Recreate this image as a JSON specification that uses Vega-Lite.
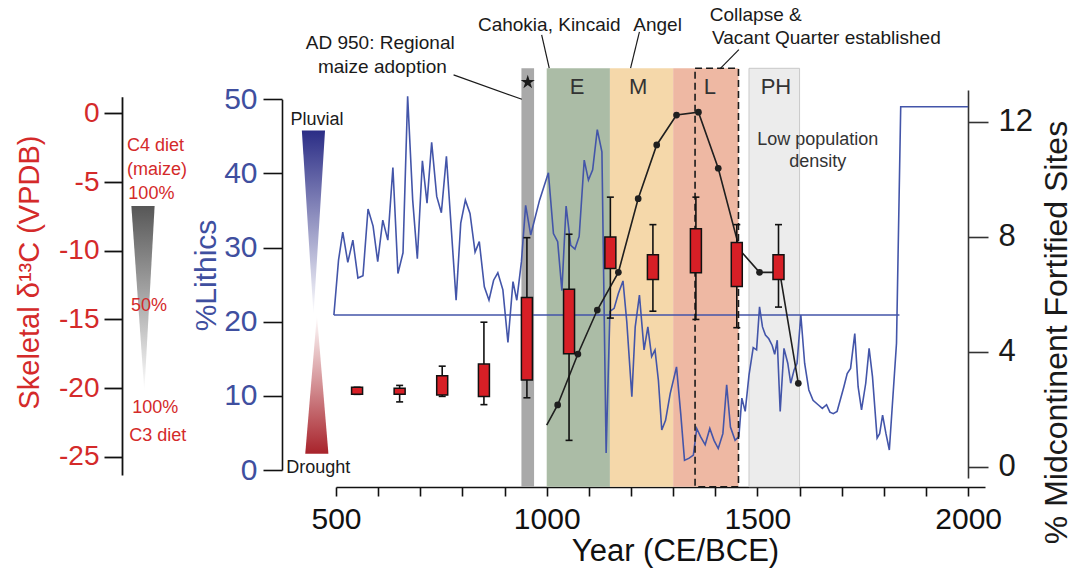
{
  "$schema": "https://vega.github.io/schema/vega-lite/v6.json",
  "width": 649,
  "height": 427,
  "autosize": "none",
  "padding": {"left": 336, "top": 60, "right": 98, "bottom": 86},
  "background": "white",
  "config": {"view": {"stroke": null}, "font": "Liberation Sans", "axis": {"grid": false}},
  "datasets": {
    "bands": [
      {"band": "maize", "start": 940, "end": 970},
      {"band": "E", "start": 1000, "end": 1150},
      {"band": "M", "start": 1150, "end": 1300},
      {"band": "L", "start": 1300, "end": 1455},
      {"band": "PH", "start": 1480, "end": 1600}
    ],
    "lith": [
      {"year": 495, "lithics": 20.9}, {"year": 506, "lithics": 28.3}, {"year": 516, "lithics": 32.1}, {"year": 528, "lithics": 28.0},
      {"year": 540, "lithics": 31.0}, {"year": 552, "lithics": 25.9}, {"year": 564, "lithics": 26.2}, {"year": 576, "lithics": 35.2},
      {"year": 588, "lithics": 32.9}, {"year": 599, "lithics": 28.1}, {"year": 611, "lithics": 33.7}, {"year": 623, "lithics": 31.0},
      {"year": 635, "lithics": 40.8}, {"year": 647, "lithics": 26.5}, {"year": 659, "lithics": 29.3}, {"year": 670, "lithics": 50.4},
      {"year": 682, "lithics": 36.4}, {"year": 693, "lithics": 28.5}, {"year": 705, "lithics": 41.7}, {"year": 716, "lithics": 36.0},
      {"year": 727, "lithics": 44.2}, {"year": 739, "lithics": 36.9}, {"year": 750, "lithics": 34.7}, {"year": 762, "lithics": 42.3},
      {"year": 785, "lithics": 22.9}, {"year": 796, "lithics": 33.3}, {"year": 807, "lithics": 36.4}, {"year": 818, "lithics": 34.6},
      {"year": 830, "lithics": 29.4}, {"year": 840, "lithics": 30.8}, {"year": 852, "lithics": 24.7}, {"year": 863, "lithics": 22.9},
      {"year": 874, "lithics": 25.6}, {"year": 884, "lithics": 26.6}, {"year": 896, "lithics": 24.3}, {"year": 908, "lithics": 17.2},
      {"year": 920, "lithics": 25.4}, {"year": 929, "lithics": 22.9}, {"year": 940, "lithics": 28.1}, {"year": 950, "lithics": 35.7},
      {"year": 962, "lithics": 31.7}, {"year": 983, "lithics": 36.4}, {"year": 1004, "lithics": 40.1}, {"year": 1016, "lithics": 31.9},
      {"year": 1026, "lithics": 30.8}, {"year": 1036, "lithics": 24.2}, {"year": 1046, "lithics": 35.6}, {"year": 1057, "lithics": 30.3},
      {"year": 1067, "lithics": 29.8}, {"year": 1077, "lithics": 31.5}, {"year": 1089, "lithics": 41.8}, {"year": 1099, "lithics": 39.1},
      {"year": 1109, "lithics": 40.5}, {"year": 1120, "lithics": 45.9}, {"year": 1131, "lithics": 42.9}, {"year": 1141, "lithics": 2.3},
      {"year": 1150, "lithics": 21.4}, {"year": 1160, "lithics": 21.8}, {"year": 1170, "lithics": 23.8}, {"year": 1181, "lithics": 25.5},
      {"year": 1190, "lithics": 20.0}, {"year": 1202, "lithics": 9.9}, {"year": 1210, "lithics": 19.3}, {"year": 1220, "lithics": 23.6},
      {"year": 1231, "lithics": 16.2}, {"year": 1240, "lithics": 19.3}, {"year": 1249, "lithics": 15.3}, {"year": 1257, "lithics": 16.2},
      {"year": 1265, "lithics": 12.1}, {"year": 1273, "lithics": 5.4}, {"year": 1282, "lithics": 6.7}, {"year": 1293, "lithics": 10.3},
      {"year": 1308, "lithics": 13.9}, {"year": 1318, "lithics": 7.6}, {"year": 1327, "lithics": 1.3}, {"year": 1338, "lithics": 1.6},
      {"year": 1348, "lithics": 2.0}, {"year": 1356, "lithics": 5.6}, {"year": 1365, "lithics": 4.5}, {"year": 1376, "lithics": 3.4},
      {"year": 1387, "lithics": 5.6}, {"year": 1397, "lithics": 4.0}, {"year": 1407, "lithics": 2.9}, {"year": 1418, "lithics": 4.9},
      {"year": 1427, "lithics": 11.5}, {"year": 1436, "lithics": 5.8}, {"year": 1447, "lithics": 4.0}, {"year": 1456, "lithics": 4.5},
      {"year": 1463, "lithics": 9.7}, {"year": 1471, "lithics": 7.9}, {"year": 1480, "lithics": 12.8}, {"year": 1490, "lithics": 16.5},
      {"year": 1498, "lithics": 16.2}, {"year": 1505, "lithics": 22.0}, {"year": 1512, "lithics": 19.3}, {"year": 1519, "lithics": 18.2},
      {"year": 1527, "lithics": 17.7}, {"year": 1535, "lithics": 16.8}, {"year": 1541, "lithics": 15.6}, {"year": 1547, "lithics": 17.5},
      {"year": 1554, "lithics": 7.9}, {"year": 1563, "lithics": 16.4}, {"year": 1572, "lithics": 14.4}, {"year": 1579, "lithics": 11.7},
      {"year": 1587, "lithics": 13.5}, {"year": 1594, "lithics": 14.4}, {"year": 1603, "lithics": 20.9}, {"year": 1612, "lithics": 14.4},
      {"year": 1622, "lithics": 10.8}, {"year": 1632, "lithics": 9.4}, {"year": 1644, "lithics": 8.8}, {"year": 1654, "lithics": 8.3},
      {"year": 1664, "lithics": 8.8}, {"year": 1672, "lithics": 7.8}, {"year": 1680, "lithics": 7.6}, {"year": 1689, "lithics": 7.9},
      {"year": 1705, "lithics": 11.2}, {"year": 1713, "lithics": 13.0}, {"year": 1721, "lithics": 13.7}, {"year": 1731, "lithics": 18.4},
      {"year": 1739, "lithics": 11.2}, {"year": 1747, "lithics": 8.1}, {"year": 1757, "lithics": 11.7}, {"year": 1765, "lithics": 16.4},
      {"year": 1773, "lithics": 12.6}, {"year": 1784, "lithics": 4.3}, {"year": 1790, "lithics": 4.9}, {"year": 1797, "lithics": 7.4},
      {"year": 1805, "lithics": 4.9}, {"year": 1813, "lithics": 2.7}, {"year": 1830, "lithics": 17.1}, {"year": 1840, "lithics": 49.0},
      {"year": 2000, "lithics": 49.0}
    ],
    "baseline": [{"year": 495, "lithics": 20.9}, {"year": 1837, "lithics": 20.9}],
    "hourTop": [{"lithics": 45.8, "x1": 419, "x2": 474}, {"lithics": 20.9, "x1": 446.6, "x2": 446.6}],
    "hourBottom": [{"lithics": 20.9, "x1": 454.7, "x2": 454.7}, {"lithics": 2.2, "x1": 427, "x2": 482}],
    "annCenter": [
      {"year": 605, "lithics": 57.6, "label": "AD 950: Regional"},
      {"year": 610, "lithics": 54.4, "label": "maize adoption"},
      {"year": 1006, "lithics": 60.0, "label": "Cahokia, Kincaid"},
      {"year": 1263, "lithics": 60.0, "label": "Angel"}
    ],
    "annLeft": [
      {"year": 1387, "lithics": 61.4, "label": "Collapse &"},
      {"year": 1392, "lithics": 58.3, "label": "Vacant Quarter established"}
    ],
    "bandLabels": [
      {"year": 1072, "lithics": 51.7, "label": "E"},
      {"year": 1217, "lithics": 51.7, "label": "M"},
      {"year": 1387, "lithics": 51.7, "label": "L"},
      {"year": 1544, "lithics": 51.7, "label": "PH"}
    ],
    "lowPop": [
      {"year": 1643, "lithics": 44.5, "label": "Low population"},
      {"year": 1643, "lithics": 41.5, "label": "density"}
    ],
    "leaders": [
      {"year": 779, "year2": 941, "lithics": 53.3, "lithics2": 50.0},
      {"year": 988, "year2": 1006, "lithics": 58.7, "lithics2": 54.2},
      {"year": 1220, "year2": 1199, "lithics": 59.1, "lithics2": 54.2},
      {"year": 1456, "year2": 1411, "lithics": 56.7, "lithics2": 54.1}
    ],
    "fort": [
      {"year": 1000, "sites": 1.45}, {"year": 1026, "sites": 2.15}, {"year": 1074, "sites": 3.92}, {"year": 1120, "sites": 5.45},
      {"year": 1170, "sites": 6.76}, {"year": 1217, "sites": 9.32}, {"year": 1261, "sites": 11.19}, {"year": 1308, "sites": 12.23},
      {"year": 1360, "sites": 12.33}, {"year": 1407, "sites": 10.38}, {"year": 1458, "sites": 7.54}, {"year": 1505, "sites": 6.76},
      {"year": 1553, "sites": 6.76}, {"year": 1597, "sites": 2.9}
    ],
    "boxes": [
      {"year": 550, "lo": -20.45, "q1": -20.45, "q3": -19.94, "hi": -19.94},
      {"year": 651, "lo": -21.0, "q1": -20.45, "q3": -20.0, "hi": -19.8},
      {"year": 752, "lo": -20.6, "q1": -20.5, "q3": -19.1, "hi": -18.4},
      {"year": 851, "lo": -21.2, "q1": -20.6, "q3": -18.25, "hi": -15.2},
      {"year": 953, "lo": -20.7, "q1": -19.4, "q3": -13.4, "hi": -9.05},
      {"year": 1053, "lo": -23.8, "q1": -17.5, "q3": -12.8, "hi": -8.8},
      {"year": 1151, "lo": -14.9, "q1": -11.3, "q3": -9.0, "hi": -6.1},
      {"year": 1252, "lo": -14.4, "q1": -12.1, "q3": -10.3, "hi": -8.1},
      {"year": 1354, "lo": -15.0, "q1": -11.6, "q3": -8.4, "hi": -6.1},
      {"year": 1451, "lo": -15.6, "q1": -12.6, "q3": -9.4, "hi": -8.1},
      {"year": 1550, "lo": -14.1, "q1": -12.1, "q3": -10.3, "hi": -8.1}
    ],
    "grayTri": [{"d13c": -6.75, "x1": 14.4, "x2": 69.6}, {"d13c": -20.26, "x1": 45.2, "x2": 45.2}],
    "dietLabels": [
      {"year": 4.2, "d13c": -2.38, "label": "C4 diet"},
      {"year": 4.2, "d13c": -4.13, "label": "(maize)"},
      {"year": 7.3, "d13c": -5.87, "label": "100%"},
      {"year": 13.6, "d13c": -14.02, "label": "50%"},
      {"year": 16.7, "d13c": -21.43, "label": "100%"},
      {"year": 9.6, "d13c": -23.49, "label": "C3 diet"}
    ]
  },
  "resolve": {"scale": {"y": "independent"}, "axis": {"y": "independent"}},
  "layer": [
    {
      "layer": [
        {
          "data": {"name": "bands"},
          "mark": {"type": "rect", "clip": false},
          "encoding": {
            "x": {"field": "start", "type": "quantitative", "scale": {"domain": [500, 2040], "nice": false, "zero": false, "padding": 0},
              "axis": {"values": [500, 600, 700, 800, 900, 1000, 1100, 1200, 1300, 1400, 1500, 1600, 1700, 1800, 1900, 2000],
                "labelExpr": "datum.value % 500 == 0 ? '' + datum.value : ''", "title": "Year (CE/BCE)",
                "domainColor": "#111", "domainWidth": 1.6, "tickColor": "#111", "tickWidth": 1.6, "tickSize": 9,
                "labelFontSize": 30, "labelColor": "#111", "labelPadding": 8, "labelFlush": false, "labelOverlap": false,
                "titleFontSize": 31, "titleFontWeight": "normal", "titleColor": "#111", "titleX": 339, "titleY": 73, "titleBaseline": "alphabetic"}},
            "x2": {"field": "end"},
            "y": {"datum": 54.18, "type": "quantitative", "scale": {"domain": [0, 50], "range": [410, 39.3], "nice": false, "zero": false},
              "axis": {"orient": "left", "offset": 54, "values": [0, 10, 20, 30, 40, 50], "title": "%Lithics",
                "domainColor": "#111", "domainWidth": 1.6, "tickColor": "#111", "tickWidth": 1.6, "tickSize": 19,
                "labelFontSize": 30, "labelColor": "#3f4f9f", "labelPadding": 6,
                "titleFontSize": 30, "titleFontWeight": "normal", "titleColor": "#3f4f9f", "titleAngle": 270,
                "titleX": -67, "titleY": 215, "titleAlign": "center", "titleBaseline": "alphabetic"}},
            "y2": {"datum": -2.25},
            "color": {"field": "band", "type": "nominal", "scale": {"domain": ["maize", "E", "M", "L", "PH"], "range": ["#a9a9a9", "#abbca6", "#f5d8aa", "#eeb8a3", "#ececec"]}, "legend": null}
          }
        },
        {
          "data": {"name": "bands"},
          "transform": [{"filter": "datum.band == 'PH'"}],
          "mark": {"type": "rect", "fill": "white", "fillOpacity": 0, "stroke": "#c9c9c9", "strokeWidth": 1},
          "encoding": {
            "x": {"field": "start", "type": "quantitative"},
            "x2": {"field": "end"},
            "y": {"datum": 54.18, "type": "quantitative"},
            "y2": {"datum": -2.25}
          }
        },
        {
          "data": {"name": "baseline"},
          "mark": {"type": "line", "color": "#4355a9", "strokeWidth": 1.6, "clip": false},
          "encoding": {
            "x": {"field": "year", "type": "quantitative"},
            "y": {"field": "lithics", "type": "quantitative"}
          }
        },
        {
          "data": {"name": "lith"},
          "mark": {"type": "line", "color": "#4355a9", "strokeWidth": 1.6, "clip": false},
          "encoding": {
            "x": {"field": "year", "type": "quantitative"},
            "y": {"field": "lithics", "type": "quantitative"}
          }
        },
        {
          "data": {"values": [{"start": 1352, "end": 1455}]},
          "mark": {"type": "rect", "fill": "white", "fillOpacity": 0, "stroke": "#1a1a1a", "strokeWidth": 1.6, "strokeDash": [7, 4], "clip": false},
          "encoding": {
            "x": {"field": "start", "type": "quantitative"},
            "x2": {"field": "end"},
            "y": {"datum": 54.18, "type": "quantitative"},
            "y2": {"datum": -2.25}
          }
        },
        {
          "data": {"name": "hourTop"},
          "mark": {"type": "area", "orient": "horizontal", "clip": false,
            "fill": {"gradient": "linear", "x1": 0, "y1": 0, "x2": 0, "y2": 1, "stops": [{"offset": 0, "color": "#2b2d86"}, {"offset": 1, "color": "#ffffff"}]}},
          "encoding": {
            "y": {"field": "lithics", "type": "quantitative"},
            "x": {"field": "x1", "type": "quantitative"},
            "x2": {"field": "x2"}
          }
        },
        {
          "data": {"name": "hourBottom"},
          "mark": {"type": "area", "orient": "horizontal", "clip": false,
            "fill": {"gradient": "linear", "x1": 0, "y1": 0, "x2": 0, "y2": 1, "stops": [{"offset": 0, "color": "#ffffff"}, {"offset": 1, "color": "#a8232b"}]}},
          "encoding": {
            "y": {"field": "lithics", "type": "quantitative"},
            "x": {"field": "x1", "type": "quantitative"},
            "x2": {"field": "x2"}
          }
        },
        {
          "data": {"name": "leaders"},
          "mark": {"type": "rule", "color": "#1a1a1a", "strokeWidth": 1.2, "clip": false},
          "encoding": {
            "x": {"field": "year", "type": "quantitative"},
            "x2": {"field": "year2"},
            "y": {"field": "lithics", "type": "quantitative"},
            "y2": {"field": "lithics2"}
          }
        },
        {
          "data": {"name": "annCenter"},
          "mark": {"type": "text", "fontSize": 19, "color": "#1a1a1a", "align": "center", "baseline": "middle"},
          "encoding": {
            "x": {"field": "year", "type": "quantitative"},
            "y": {"field": "lithics", "type": "quantitative"},
            "text": {"field": "label"}
          }
        },
        {
          "data": {"name": "annLeft"},
          "mark": {"type": "text", "fontSize": 19, "color": "#1a1a1a", "align": "left", "baseline": "middle"},
          "encoding": {
            "x": {"field": "year", "type": "quantitative"},
            "y": {"field": "lithics", "type": "quantitative"},
            "text": {"field": "label"}
          }
        },
        {
          "data": {"name": "bandLabels"},
          "mark": {"type": "text", "fontSize": 22, "color": "#333333", "align": "center", "baseline": "middle"},
          "encoding": {
            "x": {"field": "year", "type": "quantitative"},
            "y": {"field": "lithics", "type": "quantitative"},
            "text": {"field": "label"}
          }
        },
        {
          "data": {"name": "lowPop"},
          "mark": {"type": "text", "fontSize": 18, "color": "#333333", "align": "center", "baseline": "middle"},
          "encoding": {
            "x": {"field": "year", "type": "quantitative"},
            "y": {"field": "lithics", "type": "quantitative"},
            "text": {"field": "label"}
          }
        },
        {
          "data": {"values": [{"year": 455, "lithics": 47.2, "label": "Pluvial"}]},
          "mark": {"type": "text", "fontSize": 18, "color": "#1a1a1a", "align": "center", "baseline": "middle"},
          "encoding": {
            "x": {"field": "year", "type": "quantitative"},
            "y": {"field": "lithics", "type": "quantitative"},
            "text": {"field": "label"}
          }
        },
        {
          "data": {"values": [{"year": 382, "lithics": 0.23, "label": "Drought"}]},
          "mark": {"type": "text", "fontSize": 18, "color": "#1a1a1a", "align": "left", "baseline": "middle"},
          "encoding": {
            "x": {"field": "year", "type": "quantitative"},
            "y": {"field": "lithics", "type": "quantitative"},
            "text": {"field": "label"}
          }
        },
        {
          "data": {"values": [{"year": 955, "lithics": 52.3}]},
          "mark": {"type": "point", "filled": true, "color": "#1a1a1a", "opacity": 1, "size": 220,
            "shape": "M0,-1L0.2245,-0.309L0.951,-0.309L0.363,0.118L0.588,0.809L0,0.382L-0.588,0.809L-0.363,0.118L-0.951,-0.309L-0.2245,-0.309Z"},
          "encoding": {
            "x": {"field": "year", "type": "quantitative"},
            "y": {"field": "lithics", "type": "quantitative"}
          }
        }
      ]
    },
    {
      "layer": [
        {
          "data": {"name": "fort"},
          "mark": {"type": "line", "color": "#1f1f1f", "strokeWidth": 1.6},
          "encoding": {
            "x": {"field": "year", "type": "quantitative"},
            "y": {"field": "sites", "type": "quantitative", "scale": {"domain": [-0.39, 13.1], "range": [418, 30], "nice": false, "zero": false},
              "axis": {"orient": "right", "offset": -17, "values": [0, 4, 8, 12], "title": "% Midcontinent Fortified Sites",
                "domainColor": "#333", "domainWidth": 1.6, "tickColor": "#333", "tickWidth": 1.6, "tickSize": 20,
                "labelFontSize": 31, "labelColor": "#1a1a1a", "labelPadding": 10,
                "titleFontSize": 32, "titleFontWeight": "normal", "titleColor": "#1a1a1a", "titleAngle": 270,
                "titleX": 98, "titleY": 272, "titleAlign": "center", "titleBaseline": "alphabetic"}}
          }
        },
        {
          "data": {"name": "fort"},
          "transform": [{"filter": "datum.year > 1010"}],
          "mark": {"type": "point", "filled": true, "color": "#1f1f1f", "opacity": 1, "size": 45},
          "encoding": {
            "x": {"field": "year", "type": "quantitative"},
            "y": {"field": "sites", "type": "quantitative"}
          }
        }
      ]
    },
    {
      "layer": [
        {
          "data": {"name": "grayTri"},
          "mark": {"type": "area", "orient": "horizontal", "clip": false,
            "fill": {"gradient": "linear", "x1": 0, "y1": 0, "x2": 0, "y2": 1, "stops": [{"offset": 0, "color": "#575757"}, {"offset": 0.5, "color": "#a9a9a9"}, {"offset": 1, "color": "#ffffff"}]}},
          "encoding": {
            "x": {"field": "x1", "type": "quantitative"},
            "x2": {"field": "x2"},
            "y": {"field": "d13c", "type": "quantitative", "scale": {"domain": [-26.32, 1.21], "range": [415, 36.7], "nice": false, "zero": false},
              "axis": {"orient": "left", "offset": 214, "values": [0, -5, -10, -15, -20, -25], "title": "Skeletal δ¹³C (VPDB)",
                "labelExpr": "datum.value < 0 ? '-' + abs(datum.value) : '' + datum.value",
                "domainColor": "#111", "domainWidth": 1.8, "tickColor": "#111", "tickWidth": 1.8, "tickSize": 18,
                "labelFontSize": 28, "labelColor": "#d42a2a", "labelPadding": 5,
                "titleFontSize": 29, "titleFontWeight": "normal", "titleColor": "#d42a2a", "titleAngle": 270,
                "titleX": -84, "titleY": 212, "titleAlign": "center", "titleBaseline": "alphabetic"}}
          }
        },
        {
          "data": {"name": "dietLabels"},
          "mark": {"type": "text", "fontSize": 18, "color": "#d42a2a", "align": "left", "baseline": "middle"},
          "encoding": {
            "x": {"field": "year", "type": "quantitative"},
            "y": {"field": "d13c", "type": "quantitative"},
            "text": {"field": "label"}
          }
        },
        {
          "data": {"name": "boxes"},
          "mark": {"type": "rule", "color": "#111", "strokeWidth": 1.6},
          "encoding": {
            "x": {"field": "year", "type": "quantitative"},
            "y": {"field": "lo", "type": "quantitative"},
            "y2": {"field": "hi"}
          }
        },
        {
          "data": {"name": "boxes"},
          "transform": [{"fold": ["lo", "hi"], "as": ["k", "val"]}],
          "mark": {"type": "point", "shape": "stroke", "size": 49, "stroke": "#111", "strokeWidth": 1.6, "filled": false, "opacity": 1},
          "encoding": {
            "x": {"field": "year", "type": "quantitative"},
            "y": {"field": "val", "type": "quantitative"}
          }
        },
        {
          "data": {"name": "boxes"},
          "mark": {"type": "bar", "orient": "vertical", "size": 11, "fill": "#d71f26", "stroke": "#111", "strokeWidth": 1.5},
          "encoding": {
            "x": {"field": "year", "type": "quantitative"},
            "y": {"field": "q1", "type": "quantitative"},
            "y2": {"field": "q3"}
          }
        }
      ]
    }
  ]
}
